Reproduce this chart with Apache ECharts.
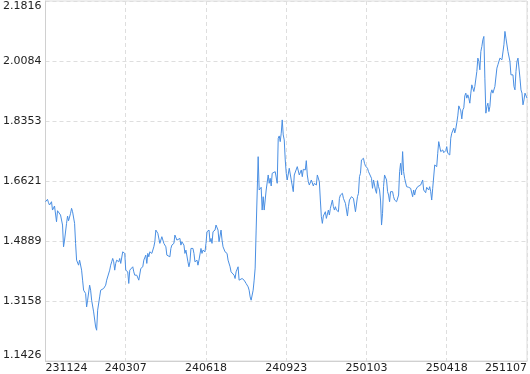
<!DOCTYPE html>
<html>
<head>
<meta charset="utf-8">
<script src="https://cdn.jsdelivr.net/npm/echarts@6/dist/echarts.min.js"></script>
<style>
html,body{margin:0;padding:0;background:#fff;}
#chart{width:530px;height:374px;}
</style>
</head>
<body>
<div id="chart"></div>
<script>
// x tick labels (dates), one every 80 index steps
var tickLabels = ['231124','240307','240618','240923','250103','250418','251107'];
// y-axis range
var yMin = 1.1426;
var yMax = 2.1816;
// index positions of the points along the axis
var days = [0,2,3,4,6,7,9,11,12,13,15,17,18,19,21,22,23,25,26,27,29,30,31,33,34,36,37,38,39,40,41,42,44,45,46,48,49,50,51,52,54,55,56,58,60,61,62,64,65,66,67,68,69,70,71,73,74,75,77,78,79,80,82,83,84,85,87,88,89,91,92,93,95,96,97,98,100,101,102,103,104,106,108,109,110,112,113,114,116,117,118,120,121,122,124,125,126,128,129,131,132,134,135,136,138,139,140,142,143,144,145,147,148,149,151,152,153,155,156,157,159,160,161,163,164,165,166,167,169,170,171,172,173,175,176,177,179,180,181,182,184,185,186,188,189,190,192,193,194,196,197,198,200,201,202,203,204,205,207,208,209,210,212,213,214,215,216,217,218,219,220,222,223,224,225,226,227,229,230,231,232,233,234,235,236,237,238,239,240,241,243,244,245,247,248,249,251,252,253,255,256,257,259,260,261,262,263,265,266,267,268,270,271,272,273,274,275,276,277,278,279,280,282,283,284,286,287,288,289,290,292,293,294,296,297,298,299,300,301,302,303,305,306,307,309,310,311,312,313,314,315,317,318,319,321,322,323,325,326,327,328,329,330,331,332,333,334,335,336,337,338,340,341,342,343,344,346,347,348,350,351,352,353,354,355,356,357,358,360,361,362,364,365,366,367,368,369,370,371,372,374,375,376,377,378,379,380,382,383,384,385,386,387,388,389,390,391,392,393,394,395,396,397,399,400,401,403,404,405,406,407,408,409,410,411,412,413,414,415,416,417,418,419,420,421,422,423,424,425,426,427,428,429,430,431,432,433,434,435,436,437,438,439,440,441,442,443,444,445,446,447,448,449,450,451,452,453,454,455,456,457,458,459,460,461,462,463,464,465,466,467,468,469,470,471,472,473,474,475,476,477,478,479,480];
// net value series
var values = [1.6023,1.6092,1.5994,1.5928,1.6023,1.5783,1.5899,1.5445,1.5763,1.5783,1.5639,1.5350,1.4722,1.4916,1.5399,1.5610,1.5474,1.5688,1.5832,1.5734,1.5399,1.4821,1.4337,1.4192,1.4337,1.4048,1.3759,1.3470,1.3519,1.3375,1.2987,1.3181,1.3615,1.3470,1.3181,1.2843,1.2797,1.2409,1.2314,1.2892,1.3276,1.3470,1.3519,1.3519,1.3615,1.3759,1.3710,1.4048,1.4192,1.4288,1.4386,1.4288,1.4048,1.4242,1.4337,1.4288,1.4386,1.4242,1.4577,1.4531,1.4531,1.4048,1.3999,1.3664,1.4048,1.4096,1.4145,1.3999,1.3903,1.3903,1.3855,1.3759,1.4096,1.4048,1.4145,1.4337,1.4482,1.4242,1.4531,1.4433,1.4577,1.4531,1.4722,1.4867,1.5205,1.5110,1.5061,1.4821,1.5013,1.5061,1.4821,1.4722,1.4482,1.4531,1.4433,1.4675,1.4771,1.4821,1.5061,1.4916,1.4867,1.4964,1.4771,1.4867,1.4771,1.4531,1.4626,1.4288,1.4145,1.4288,1.4675,1.4675,1.4531,1.4288,1.4337,1.4192,1.4337,1.4675,1.4531,1.4626,1.4577,1.4821,1.5156,1.5205,1.4867,1.4964,1.4821,1.5156,1.5205,1.5350,1.5379,1.5205,1.4867,1.5205,1.4916,1.4722,1.4577,1.4577,1.4531,1.4337,1.4145,1.3999,1.3999,1.3903,1.3807,1.3999,1.4145,1.3759,1.3759,1.3807,1.3759,1.3759,1.3663,1.3710,1.3566,1.3470,1.3276,1.3181,1.3470,1.3759,1.4106,1.5205,1.7323,1.6361,1.6410,1.6439,1.5783,1.6167,1.5783,1.5831,1.6361,1.6795,1.6555,1.6699,1.6477,1.6844,1.6861,1.6890,1.6844,1.6555,1.7855,1.7922,1.7757,1.8000,1.8384,1.7951,1.7806,1.7228,1.6844,1.6650,1.6988,1.7035,1.6650,1.6313,1.6795,1.6766,1.7035,1.7084,1.6795,1.6939,1.6746,1.6959,1.6939,1.7208,1.6795,1.6601,1.6505,1.6650,1.6699,1.6477,1.6555,1.6505,1.6795,1.6844,1.6601,1.6072,1.5590,1.5398,1.5610,1.5572,1.5734,1.5542,1.5783,1.5639,1.5832,1.6072,1.5879,1.5783,1.5879,1.5783,1.5734,1.6120,1.6216,1.6265,1.6120,1.6120,1.5976,1.5928,1.5610,1.5879,1.6072,1.6167,1.6216,1.6120,1.5734,1.5734,1.6167,1.6265,1.6746,1.6844,1.7228,1.7277,1.7132,1.7055,1.6988,1.6890,1.6844,1.6699,1.6410,1.6650,1.6505,1.6361,1.6265,1.6630,1.6457,1.6361,1.6072,1.5350,1.5687,1.6457,1.6795,1.6650,1.6313,1.6216,1.6023,1.6313,1.6313,1.6167,1.6072,1.6023,1.5976,1.6216,1.6890,1.7132,1.6795,1.7469,1.6890,1.6699,1.6457,1.6410,1.6439,1.6410,1.6361,1.6167,1.6361,1.6216,1.6361,1.6410,1.6457,1.6477,1.6505,1.6477,1.6650,1.6361,1.6410,1.6283,1.6439,1.6361,1.6457,1.6313,1.6072,1.6410,1.6457,1.7084,1.7132,1.7035,1.7421,1.7757,1.7728,1.7469,1.7421,1.7517,1.7439,1.7497,1.7613,1.7421,1.7372,1.7855,1.8000,1.8047,1.8146,1.8008,1.8124,1.8298,1.8500,1.8789,1.8732,1.8645,1.8413,1.8674,1.8732,1.9079,1.9157,1.9012,1.9108,1.9012,1.8867,1.9157,1.9396,1.9300,1.9204,1.9348,1.9348,1.9782,2.0168,2.0070,1.9830,2.0359,2.0504,2.0697,2.0793,1.9589,1.8579,1.8770,1.8867,1.8625,1.8770,1.9157,1.9252,1.9157,1.9204,1.9348,1.9396,1.9879,1.9975,1.9926,2.0168,2.0119,2.0119,2.0119,2.0553,2.0938,2.0745,2.0697,2.0359,2.0359,2.0070,1.9685,1.9637,1.9685,1.9348,1.9252,1.9782,2.0070,2.0168,2.0119,1.9589,1.9252,1.9157,1.8819,1.8963,1.9157,1.9108,1.9012];

var seriesData = days.map(function (d, i) { return [d, values[i]]; });
var xStep = 80;
var xMax = xStep * (tickLabels.length - 1);

var chart = echarts.init(document.getElementById('chart'), null, {renderer: 'canvas'});
chart.setOption({
  animation: false,
  backgroundColor: '#fff',
  grid: {left: 44, right: 2, top: 1, bottom: 13, show: true, borderColor: '#dcdcdc', borderWidth: 1, backgroundColor: 'transparent'},
  xAxis: {
    type: 'value', min: 0, max: xMax, interval: xStep,
    axisLine: {show: true, lineStyle: {color: '#d0d0d0', width: 1}},
    axisTick: {show: false},
    axisLabel: {
      show: true, margin: 2, color: '#222', fontFamily: 'DejaVu Sans', fontSize: 11,
      alignMinLabel: 'left', alignMaxLabel: 'right',
      formatter: function (v) { return tickLabels[Math.round(v / xStep)]; }
    },
    splitLine: {show: true, lineStyle: {color: '#dedede', type: [4, 3], width: 1}}
  },
  yAxis: {
    type: 'value', min: yMin, max: yMax, interval: 0.1731667,
    axisLine: {show: true, lineStyle: {color: '#d0d0d0', width: 1}},
    axisTick: {show: false},
    axisLabel: {
      show: true, margin: 4, color: '#222', fontFamily: 'DejaVu Sans', fontSize: 11,
      verticalAlignMinLabel: 'bottom', verticalAlignMaxLabel: 'top',
      formatter: function (v) { return v.toFixed(4); }
    },
    splitLine: {show: true, lineStyle: {color: '#dedede', type: [4, 3], width: 1}}
  },
  series: [{
    type: 'line', data: seriesData, showSymbol: false, symbol: 'none',
    lineStyle: {color: '#4a8fe3', width: 1}, silent: true
  }]
});
</script>
</body>
</html>
